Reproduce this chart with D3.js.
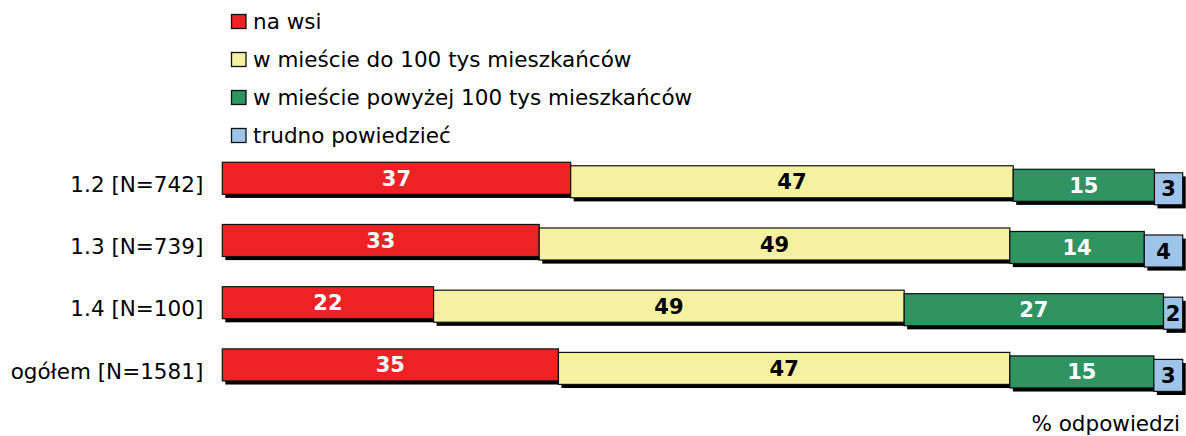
<!DOCTYPE html>
<html>
<head>
<meta charset="utf-8">
<script src="https://cdn.jsdelivr.net/npm/d3@7"></script>
<style>
  html, body { margin: 0; padding: 0; background: #ffffff; }
  svg { display: block; font-family: "DejaVu Sans", Verdana, sans-serif; }
</style>
</head>
<body>
<svg id="chart" width="1186" height="436"></svg>
<script>
// Row categories (respondent groups)
const categories = ["1.2 [N=742]", "1.3 [N=739]", "1.4 [N=100]", "ogółem [N=1581]"];

// Answer categories, in stacking order
const seriesKeys = ["naWsi", "miastoDo100", "miastoPow100", "trudno"];
const seriesNames = [
  "na wsi",
  "w mieście do 100 tys mieszkańców",
  "w mieście powyżej 100 tys mieszkańców",
  "trudno powiedzieć"
];

// Percentages per row
const naWsi        = [37, 33, 22, 35];
const miastoDo100  = [47, 49, 49, 47];
const miastoPow100 = [15, 14, 27, 15];
const trudno       = [3, 4, 2, 3];

const seriesColors = ["#ed2224", "#f4f1a1", "#2f9462", "#9ec4e9"];
const labelColors  = ["#ffffff", "#000000", "#ffffff", "#000000"];
const unitLabel = "% odpowiedzi";

const rows = categories.map((c, i) => ({
  category: c,
  naWsi: naWsi[i],
  miastoDo100: miastoDo100[i],
  miastoPow100: miastoPow100[i],
  trudno: trudno[i]
}));

const svg = d3.select("#chart");

// 100% stacked layout
const stacked = d3.stack().keys(seriesKeys).offset(d3.stackOffsetExpand)(rows);

const x = d3.scaleLinear().domain([0, 1]).range([222.3, 1182.7]);
const y = d3.scaleBand().domain(categories).range([132.1, 411.1]).padding(0.485);

const stepDrop = 3.5;   // each following segment sits a little lower
const shadowDx = 3, shadowDy = 3.6;

const plot = svg.append("g");

stacked.forEach((layer, si) => {
  const g = plot.append("g").attr("class", "series-" + si);
  layer.forEach((d, ri) => {
    const cat = categories[ri];
    const x0 = x(d[0]), x1 = x(d[1]);
    const top = y(cat) + si * stepDrop;
    const h = y.bandwidth();
    g.append("rect")
      .attr("x", x0 + shadowDx)
      .attr("y", top + shadowDy)
      .attr("width", x1 - x0)
      .attr("height", h)
      .attr("fill", "#000");
    g.append("rect")
      .attr("x", x0)
      .attr("y", top)
      .attr("width", x1 - x0)
      .attr("height", h)
      .attr("fill", seriesColors[si])
      .attr("stroke", "#111")
      .attr("stroke-width", 1.2);
  });
});

// value labels
stacked.forEach((layer, si) => {
  layer.forEach((d, ri) => {
    const cat = categories[ri];
    const value = d.data[seriesKeys[si]];
    plot.append("text")
      .attr("x", (x(d[0]) + x(d[1])) / 2)
      .attr("y", y(cat) + si * stepDrop + y.bandwidth() / 2)
      .attr("dy", "0.36em")
      .attr("text-anchor", "middle")
      .attr("font-size", 21)
      .attr("font-weight", "bold")
      .attr("fill", labelColors[si])
      .text(value);
  });
});

// category axis
const axis = svg.append("g")
  .attr("transform", `translate(${x(0)},0)`)
  .call(d3.axisLeft(y).tickSize(0).tickPadding(19));
axis.select(".domain").remove();
axis.selectAll("text")
  .attr("font-family", "DejaVu Sans, Verdana, sans-serif")
  .attr("font-size", 21.5)
  .attr("fill", "#000")
  .attr("dy", "0.64em");

// legend
const legend = svg.append("g");
seriesNames.forEach((name, i) => {
  const base = 28.5 + i * 38;
  legend.append("rect")
    .attr("x", 231.5)
    .attr("y", base - 14)
    .attr("width", 14.5)
    .attr("height", 14)
    .attr("fill", seriesColors[i])
    .attr("stroke", "#111")
    .attr("stroke-width", 1.3);
  legend.append("text")
    .attr("x", 253)
    .attr("y", base)
    .attr("font-size", 21.5)
    .attr("fill", "#000")
    .text(name);
});

svg.append("text")
  .attr("x", 1180)
  .attr("y", 431)
  .attr("text-anchor", "end")
  .attr("font-size", 21.5)
  .attr("fill", "#000")
  .text(unitLabel);
</script>
</body>
</html>
